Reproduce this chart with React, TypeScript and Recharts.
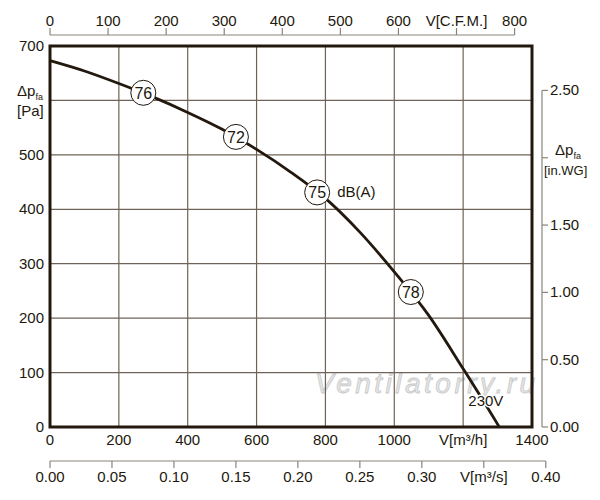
import React from 'react';
import {
  ComposedChart,
  Line,
  Scatter,
  XAxis,
  YAxis,
  CartesianGrid,
  ReferenceArea,
  ReferenceDot,
} from 'recharts';

// fan curve, 230V
const flowM3h = [0, 100, 200, 300, 400, 500, 600, 700, 800, 900, 1000, 1100, 1200, 1250, 1305];
const pressurePa = [673, 654, 631, 606, 578, 547, 510, 468, 420, 358, 285, 205, 107, 57, 0];

// noise markers on the curve
const noiseDb = ['76', '72', '75', '78'];
const noiseFlow = [271, 540, 776, 1048];
const noisePa = [614, 533, 431, 248];

const m3hTicks = [0, 200, 400, 600, 800, 1000, 1200, 1400];
const paTicks = [0, 100, 200, 300, 400, 500, 600, 700];
const cfmTicks = [0, 100, 200, 300, 400, 500, 600, 700, 800];
const m3sTicks = [0, 0.05, 0.1, 0.15, 0.2, 0.25, 0.3, 0.35, 0.4];
const wgTicks = [0, 0.5, 1, 1.5, 2, 2.5];

const curve = flowM3h.map((q, i) => ({ q, p: pressurePa[i] }));
const markers = noiseDb.map((db, i) => ({ q: noiseFlow[i], p: noisePa[i], db, unit: db === '75' ? 'dB(A)' : '' }));

const W = 600;
const H = 500;
const LEFT = 50;
const BOTTOM = 427;
const INK = '#22180d';
const GRID = '#6f6357';
const SUB = '#8c8378';
const FONT = '"Liberation Sans", Arial, sans-serif';

const txt = { fontFamily: FONT, fontSize: 15, fill: INK };

function PaTick(props: any) {
  const { y, payload } = props;
  if (payload.value === 600) {
    return (
      <g>
        <text x={17} y={96} {...txt}>
          Δp<tspan fontSize={9} dy={4}>fa</tspan>
        </text>
        <text x={17} y={116} {...txt}>[Pa]</text>
      </g>
    );
  }
  return (
    <text x={44} y={y + 5} textAnchor="end" {...txt}>
      {payload.value}
    </text>
  );
}

function M3hTick(props: any) {
  const { x, payload } = props;
  const label = payload.value === 1200 ? 'V[m³/h]' : String(payload.value);
  return (
    <text x={x} y={445} textAnchor="middle" {...txt}>
      {label}
    </text>
  );
}

function CfmTick(props: any) {
  const { x, payload } = props;
  const label = payload.value === 700 ? 'V[C.F.M.]' : String(payload.value);
  return (
    <g>
      {payload.value === 800 && <line x1={LEFT} y1={35} x2={x} y2={35} stroke={SUB} strokeWidth={1.2} />}
      <line x1={x} y1={28} x2={x} y2={35} stroke={SUB} strokeWidth={1.2} />
      <text x={x} y={26} textAnchor="middle" {...txt}>
        {label}
      </text>
    </g>
  );
}

function M3sTick(props: any) {
  const { x, payload, index } = props;
  const label = index === 7 ? 'V[m³/s]' : Number(payload.value).toFixed(2);
  return (
    <g>
      {index === 8 && <line x1={LEFT} y1={461} x2={x} y2={461} stroke={SUB} strokeWidth={1.2} />}
      <line x1={x} y1={461} x2={x} y2={468} stroke={SUB} strokeWidth={1.2} />
      <text x={x} y={482} textAnchor="middle" {...txt}>
        {label}
      </text>
    </g>
  );
}

function WgTick(props: any) {
  const { y, payload } = props;
  const v = Number(payload.value);
  return (
    <g>
      {v === 2.5 && <line x1={542} y1={y} x2={542} y2={BOTTOM} stroke={SUB} strokeWidth={1.2} />}
      <line x1={542} y1={y} x2={548} y2={y} stroke={SUB} strokeWidth={1.2} />
      {v === 2 ? (
        <g>
          <text x={555} y={155} {...txt}>
            Δp<tspan fontSize={9} dy={4}>fa</tspan>
          </text>
          <text x={544} y={175} {...txt} fontSize={13} stroke="#fff" strokeWidth={3} paintOrder="stroke">
            [in.WG]
          </text>
        </g>
      ) : (
        <text x={550} y={y + 5} {...txt}>
          {v.toFixed(2)}
        </text>
      )}
    </g>
  );
}

function NoiseMarker(props: any) {
  const { cx, cy, payload } = props;
  return (
    <g>
      <circle cx={cx} cy={cy} r={12.5} fill="#fff" stroke={INK} strokeWidth={1} />
      <text x={cx} y={cy + 6} textAnchor="middle" fontFamily={FONT} fontSize={16} fill={INK}>
        {payload.db}
      </text>
      {payload.unit && (
        <text x={cx + 20} y={cy + 5} fontFamily={FONT} fontSize={15} fill={INK}>
          {payload.unit}
        </text>
      )}
    </g>
  );
}

function VoltLabel(props: any) {
  const { cx, cy } = props;
  return (
    <text
      x={cx}
      y={cy + 5}
      textAnchor="middle"
      fontFamily={FONT}
      fontSize={15}
      fill={INK}
      stroke="#fff"
      strokeWidth={3}
      paintOrder="stroke"
    >
      230V
    </text>
  );
}

export default function App() {
  return (
    <div style={{ position: 'absolute', left: 0, top: 0, width: W, height: H, background: '#fff' }}>
      <svg width={W} height={H} style={{ position: 'absolute', left: 0, top: 0 }}>
        <text
          x={315}
          y={393}
          fontFamily={FONT}
          fontStyle="italic"
          fontSize={28}
          letterSpacing={3.5}
          fill="#e6e6e6"
          stroke="#c9c9c9"
          strokeWidth={0.8}
        >
          Ventilatorry.ru
        </text>
      </svg>
      <div style={{ position: 'absolute', left: 0, top: 0 }}>
        <ComposedChart width={W} height={H} data={curve} margin={{ top: 0, right: 0, bottom: 0, left: 0 }}>
          <XAxis
            xAxisId="h"
            dataKey="q"
            type="number"
            domain={[0, 1400]}
            ticks={m3hTicks}
            interval={0}
            height={30}
            axisLine={false}
            tickLine={false}
            tick={M3hTick}
          />
          <XAxis
            xAxisId="s"
            dataKey="q"
            type="number"
            domain={[0, 1400 / 3600]}
            allowDataOverflow
            ticks={m3sTicks}
            interval={0}
            height={43}
            axisLine={false}
            tickLine={false}
            tick={M3sTick}
          />
          <XAxis
            xAxisId="cfm"
            dataKey="q"
            orientation="top"
            type="number"
            domain={[0, 830]}
            allowDataOverflow
            ticks={cfmTicks}
            interval={0}
            height={46}
            axisLine={false}
            tickLine={false}
            tick={CfmTick}
          />
          <YAxis
            yAxisId="pa"
            dataKey="p"
            type="number"
            domain={[0, 700]}
            ticks={paTicks}
            interval={0}
            width={50}
            axisLine={false}
            tickLine={false}
            tick={PaTick}
          />
          <YAxis
            yAxisId="wg"
            dataKey="p"
            orientation="right"
            type="number"
            domain={[0, 2.83]}
            allowDataOverflow
            ticks={wgTicks}
            interval={0}
            width={68}
            axisLine={false}
            tickLine={false}
            tick={WgTick}
          />
          <CartesianGrid xAxisId="h" yAxisId="pa" stroke={GRID} strokeWidth={1.2} />
          <ReferenceArea
            xAxisId="h"
            yAxisId="pa"
            x1={0}
            x2={1400}
            y1={0}
            y2={700}
            fill="none"
            fillOpacity={0}
            stroke={INK}
            strokeWidth={3}
          />
          <Line
            xAxisId="h"
            yAxisId="pa"
            dataKey="p"
            type="monotone"
            stroke={INK}
            strokeWidth={2.8}
            dot={false}
            isAnimationActive={false}
          />
          <ReferenceDot xAxisId="h" yAxisId="pa" x={1266} y={47} shape={VoltLabel} />
          <Scatter
            xAxisId="h"
            yAxisId="pa"
            data={markers}
            dataKey="p"
            shape={NoiseMarker}
            isAnimationActive={false}
          />
        </ComposedChart>
      </div>
    </div>
  );
}
